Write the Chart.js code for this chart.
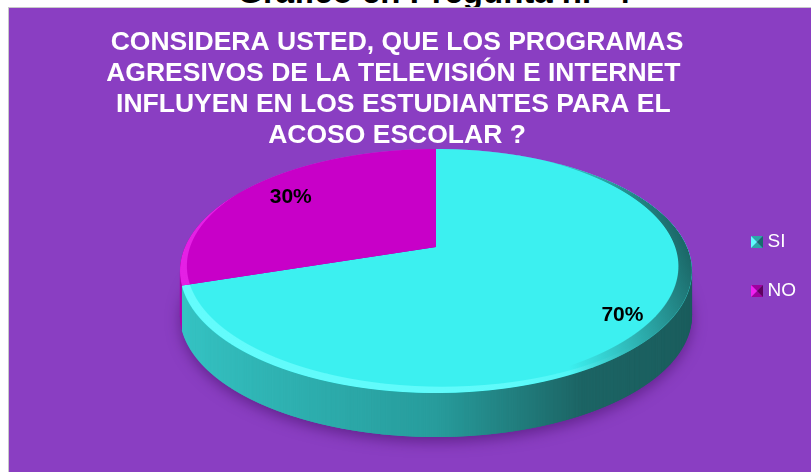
<!DOCTYPE html>
<html>
<head>
<meta charset="utf-8">
<script src="https://cdn.jsdelivr.net/npm/chart.js@4.4.1/dist/chart.umd.min.js"></script>
<style>
  html, body { margin: 0; padding: 0; background: #fff; width: 811px; height: 472px; overflow: hidden; }
  #caption { position: absolute; left: 0; width: 868px; top: -26px; text-align: center;
             font: bold 33px "Liberation Sans", Arial, sans-serif; line-height: 36px; color: #000; }
  #panel { position: absolute; left: 8px; top: 7px; width: 803px; height: 465px; background: #8a3ec2;
           border-left: 1px solid #c8c8c8; border-top: 1px solid #c8c8c8; }
  canvas { display: block; }
</style>
</head>
<body>
<div id="caption">Gráfico en Pregunta n.º 4</div>
<div id="panel"><canvas id="chartBullying" width="803" height="465"></canvas></div>
<script>
const categories = ['SI', 'NO'];
const percentages = [70, 30];
const titleLines = [
  'CONSIDERA USTED, QUE LOS PROGRAMAS',
  'AGRESIVOS DE LA TELEVISIÓN E INTERNET ',
  'INFLUYEN EN LOS ESTUDIANTES PARA EL ',
  'ACOSO ESCOLAR ?',
];

const topColors = ['#3cf0f0', '#c800c8'];
const sideStops = [
  ['#36c6c6', '#279c9c', '#1c6464', '#1a5c5c'],
  ['#b000b0', '#900090', '#700070', '#600060'],
];
const bevelLight = [[110, 255, 255], [236, 40, 236]];
const markerColors = [
  ['#5ffcfc', '#2aa8a8', '#166c6c'],
  ['#f020f0', '#a000a0', '#600060'],
];

// perspective of the tilted pie (canvas px): centre of the disc, half width, half depth, tilt
const PX = 427, PY = 239, PA = 251, PB = 117.3, PG = 0.1967;
const DEPTH = 44;
const STRIP = 1;
const labelRadius = [0.83, 0.78];
const labelShift = [5, 0];

function makeMarker(c) {
  const cv = document.createElement('canvas');
  cv.width = 12; cv.height = 12;
  const x = cv.getContext('2d');
  const tri = (pts, col) => {
    x.beginPath(); x.moveTo(pts[0], pts[1]); x.lineTo(pts[2], pts[3]); x.lineTo(6, 6); x.closePath();
    x.fillStyle = col; x.fill();
  };
  tri([0, 0, 12, 0], c[1]);
  tri([0, 12, 12, 12], c[1]);
  tri([0, 0, 0, 12], c[0]);
  tri([12, 0, 12, 12], c[2]);
  return cv;
}
const markers = markerColors.map(makeMarker);

function project(u, v) {
  const w = 1 - PG * v;
  return [PX + PA * u / w, PY + PB * v / w];
}
function vAt(y) {
  const d = y - PY;
  return d / (PB + PG * d);
}

// draw the disc row by row, each row with the local affine of the perspective map
function forStrips(ctx, a0, W, fn) {
  const r = a0.outerRadius;
  const top = Math.floor(PY - PB / (1 + PG)) - 1;
  const bot = Math.ceil(PY + PB / (1 - PG)) + 1;
  for (let y = top; y < bot; y += STRIP) {
    const vm = Math.max(-0.999, Math.min(0.999, vAt(y + STRIP / 2)));
    const w = 1 - PG * vm;
    ctx.save();
    ctx.beginPath();
    ctx.rect(0, y, W, STRIP);
    ctx.clip();
    ctx.translate(PX, PY + PB * vm / w);
    ctx.scale(PA / (w * r), PB / (w * w * r));
    ctx.translate(-a0.x, -(a0.y + vm * r));
    fn();
    ctx.restore();
  }
}

function arcPath(ctx, arc) {
  ctx.beginPath();
  ctx.moveTo(arc.x, arc.y);
  ctx.arc(arc.x, arc.y, arc.outerRadius, arc.startAngle, arc.endAngle);
  ctx.closePath();
}

function crescent(ctx, arc, dx, dy, fill) {
  ctx.beginPath();
  ctx.arc(arc.x, arc.y, arc.outerRadius, 0, Math.PI * 2);
  ctx.moveTo(arc.x + dx + arc.outerRadius, arc.y + dy);
  ctx.arc(arc.x + dx, arc.y + dy, arc.outerRadius, 0, Math.PI * 2);
  ctx.fillStyle = fill;
  ctx.fill('evenodd');
}

const pie3d = {
  id: 'pie3d',
  beforeDatasetsDraw(chart) {
    const ctx = chart.ctx;
    const arcs = chart.getDatasetMeta(0).data;
    const a0 = arcs[0];
    const r = a0.outerRadius;
    const W = chart.width, H = chart.height;

    // side wall: the disc in side colours, stacked downwards
    const side = document.createElement('canvas');
    side.width = W; side.height = H;
    const sctx = side.getContext('2d');
    forStrips(sctx, a0, W, () => {
      arcs.forEach((arc, i) => {
        const g = sctx.createLinearGradient(a0.x - r, 0, a0.x + r, 0);
        g.addColorStop(0, sideStops[i][0]);
        g.addColorStop(0.5, sideStops[i][1]);
        g.addColorStop(0.74, sideStops[i][2]);
        g.addColorStop(1, sideStops[i][3]);
        arcPath(sctx, arc);
        sctx.fillStyle = g;
        sctx.fill();
      });
    });
    ctx.save();
    ctx.shadowColor = 'rgba(60,10,90,0.5)';
    ctx.shadowBlur = 14;
    ctx.shadowOffsetY = 5;
    ctx.drawImage(side, 0, DEPTH);
    ctx.restore();
    for (let s = DEPTH; s >= 1; s--) ctx.drawImage(side, 0, s);

    // top face drawn by the arc elements, plus rim bevels
    forStrips(ctx, a0, W, () => {
      arcs.forEach((arc, i) => {
        arc.draw(ctx);
        ctx.save();
        arcPath(ctx, arc);
        ctx.clip();
        const c = bevelLight[i];
        const lg = ctx.createLinearGradient(a0.x - r, 0, a0.x + r, 0);
        lg.addColorStop(0, `rgba(${c},0.8)`);
        lg.addColorStop(0.62, `rgba(${c},0.7)`);
        lg.addColorStop(0.85, `rgba(${c},0)`);
        crescent(ctx, arc, 5, -9, lg);
        const dg = ctx.createLinearGradient(a0.x - r, 0, a0.x + r, 0);
        dg.addColorStop(0, 'rgba(25,95,95,0)');
        dg.addColorStop(0.72, 'rgba(25,95,95,0)');
        dg.addColorStop(1, 'rgba(25,95,95,0.95)');
        crescent(ctx, arc, -12, -7, dg);
        ctx.restore();
      });
    });

    // percentage labels
    ctx.save();
    ctx.font = 'bold 21px "Liberation Sans", Arial, sans-serif';
    ctx.fillStyle = '#000';
    ctx.textAlign = 'center';
    ctx.textBaseline = 'middle';
    arcs.forEach((arc, i) => {
      const mid = (arc.startAngle + arc.endAngle) / 2;
      const [x, y] = project(Math.cos(mid) * labelRadius[i], Math.sin(mid) * labelRadius[i]);
      ctx.fillText(percentages[i] + '%', x, y + labelShift[i]);
    });
    ctx.restore();
    return false;
  },
};

const chartBullying = new Chart(document.getElementById('chartBullying'), {
  type: 'pie',
  plugins: [pie3d],
  data: {
    labels: categories,
    datasets: [{
      data: percentages,
      backgroundColor: topColors,
      borderWidth: 0,
      radius: 256,
      clip: false,
    }],
  },
  options: {
    responsive: false,
    animation: false,
    events: [],
    layout: { padding: { left: 59, right: 6, top: 0, bottom: 91 } },
    plugins: {
      tooltip: { enabled: false },
      title: {
        display: true,
        fullSize: false,
        text: titleLines,
        color: '#fff',
        font: { family: '"Liberation Sans", Arial, sans-serif', size: 26.5, weight: 'bold', lineHeight: '31px' },
        padding: { top: 19, bottom: 0 },
      },
      legend: {
        position: 'right',
        fullSize: false,
        labels: {
          color: '#fff',
          font: { family: '"Liberation Sans", Arial, sans-serif', size: 19 },
          usePointStyle: true,
          pointStyleWidth: 2,
          padding: 30,
          generateLabels(chart) {
            const items = Chart.overrides.doughnut.plugins.legend.labels.generateLabels(chart);
            items.forEach((it, i) => { it.pointStyle = markers[i]; });
            return items;
          },
        },
      },
    },
  },
});
</script>
</body>
</html>
